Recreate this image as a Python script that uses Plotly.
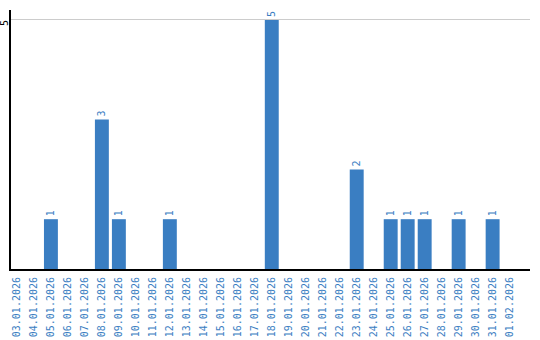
import plotly.graph_objects as go

dates = ["03.01.2026","04.01.2026","05.01.2026","06.01.2026","07.01.2026","08.01.2026",
         "09.01.2026","10.01.2026","11.01.2026","12.01.2026","13.01.2026","14.01.2026",
         "15.01.2026","16.01.2026","17.01.2026","18.01.2026","19.01.2026","20.01.2026",
         "21.01.2026","22.01.2026","23.01.2026","24.01.2026","25.01.2026","26.01.2026",
         "27.01.2026","28.01.2026","29.01.2026","30.01.2026","31.01.2026","01.02.2026"]
counts = [0,0,1,0,0,3,1,0,0,1,0,0,0,0,0,5,0,0,0,0,2,0,1,1,1,0,1,0,1,0]
labels = [str(c) if c else "" for c in counts]
y_tick = 5

color = "#3a7ec2"
fig = go.Figure(go.Bar(
    x=list(range(len(dates))), y=counts, text=labels, textposition="outside",
    textangle=-90, textfont=dict(color=color, size=10, family="DejaVu Sans Mono"),
    marker=dict(color=color, line=dict(width=0)), width=0.82, cliponaxis=False,
))
fig.update_layout(
    width=540, height=340, margin=dict(l=11, r=10, t=10, b=71),
    paper_bgcolor="white", plot_bgcolor="white", showlegend=False,
    font=dict(family="DejaVu Sans Mono", size=10),
)
fig.add_annotation(
    x=0, xref="paper", y=y_tick, yref="y", text=str(y_tick), showarrow=False,
    textangle=-90, xanchor="center", yanchor="middle", xshift=-6, yshift=-3,
    font=dict(color="black", size=10, family="DejaVu Sans Mono"),
)
fig.update_xaxes(
    tickmode="array", tickvals=list(range(len(dates))), ticktext=dates, tickangle=-90,
    tickfont=dict(color=color, size=10, family="DejaVu Sans Mono"),
    range=[-0.35, 30.2], showline=True, linecolor="black", linewidth=2,
    showgrid=False, ticks="", automargin=False, ticklabelstandoff=2,
)
fig.update_yaxes(
    range=[0, 5.2], tickvals=[y_tick], showticklabels=False,
    showline=True, linecolor="black", linewidth=2, showgrid=True, gridcolor="#cccccc",
    zeroline=False, ticks="", automargin=False,
)
fig.write_html("out.html")
